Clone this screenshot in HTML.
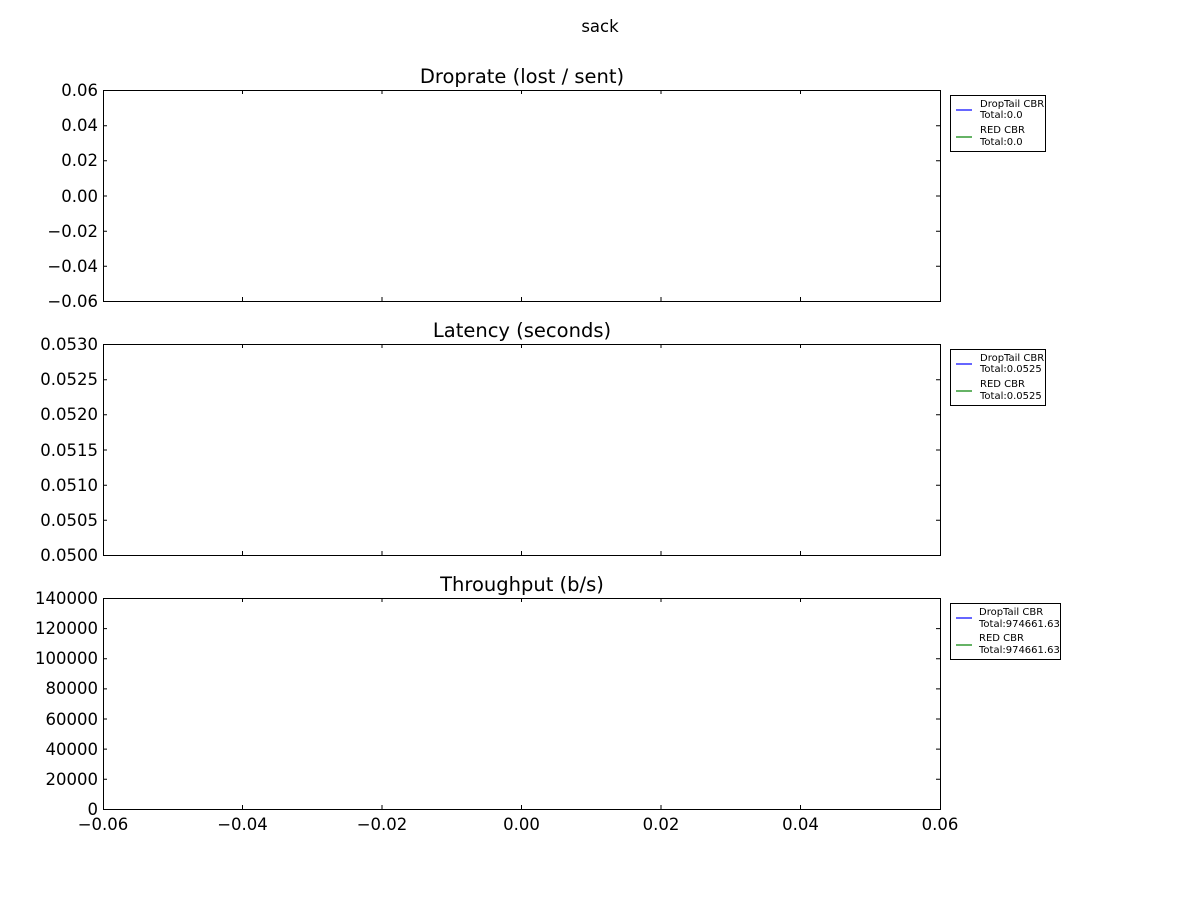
<!DOCTYPE html>
<html><head><meta charset="utf-8"><style>
html,body{margin:0;padding:0;background:#fff}
svg{display:block}
text{font-family:"DejaVu Sans","Liberation Sans",sans-serif;fill:#000}
.t{font-size:16.5px}
.yl{text-anchor:end}
.ti{font-size:19.5px;text-anchor:middle}
.lg{font-size:10px}
</style></head><body>
<svg width="1200" height="900" viewBox="0 0 1200 900">
<text x="600" y="32" text-anchor="middle" style="font-size:16.5px">sack</text>
<g stroke="#000" stroke-width="1" fill="none">
<rect x="103.5" y="90.5" width="837" height="211"/>
<rect x="103.5" y="344.5" width="837" height="211"/>
<rect x="103.5" y="598.5" width="837" height="211"/>
<path d="
M103 125.7h4M103 160.8h4M103 196h4M103 231.2h4M103 266.3h4
M940 125.7h-4M940 160.8h-4M940 196h-4M940 231.2h-4M940 266.3h-4
M103 379.7h4M103 414.8h4M103 450h4M103 485.2h4M103 520.3h4
M940 379.7h-4M940 414.8h-4M940 450h-4M940 485.2h-4M940 520.3h-4
M103 628.6h4M103 658.7h4M103 688.9h4M103 719h4M103 749.1h4M103 779.3h4
M940 628.6h-4M940 658.7h-4M940 688.9h-4M940 719h-4M940 749.1h-4M940 779.3h-4
M242.5 90v4M382 90v4M521.5 90v4M661 90v4M800.5 90v4
M242.5 301v-4M382 301v-4M521.5 301v-4M661 301v-4M800.5 301v-4
M242.5 344v4M382 344v4M521.5 344v4M661 344v4M800.5 344v4
M242.5 555v-4M382 555v-4M521.5 555v-4M661 555v-4M800.5 555v-4
M242.5 598v4M382 598v4M521.5 598v4M661 598v4M800.5 598v4
M242.5 809v-4M382 809v-4M521.5 809v-4M661 809v-4M800.5 809v-4"/>
<rect x="950.5" y="95.5" width="95" height="56"/>
<rect x="950.5" y="349.5" width="95" height="56"/>
<rect x="950.5" y="603.5" width="110" height="56"/>
</g>
<g stroke-width="1.2">
<line x1="956" y1="110" x2="972" y2="110" stroke="#0000ff"/>
<line x1="956" y1="137" x2="972" y2="137" stroke="#008000"/>
<line x1="956" y1="364" x2="972" y2="364" stroke="#0000ff"/>
<line x1="956" y1="391" x2="972" y2="391" stroke="#008000"/>
<line x1="956" y1="618" x2="972" y2="618" stroke="#0000ff"/>
<line x1="956" y1="645" x2="972" y2="645" stroke="#008000"/>
</g>
<g class="lg">
<text x="980" y="107">DropTail CBR</text><text x="980" y="118">Total:0.0</text>
<text x="980" y="133">RED CBR</text><text x="980" y="145">Total:0.0</text>
<text x="980" y="361">DropTail CBR</text><text x="980" y="372">Total:0.0525</text>
<text x="980" y="387">RED CBR</text><text x="980" y="399">Total:0.0525</text>
<text x="979" y="615">DropTail CBR</text><text x="979" y="627">Total:974661.63</text>
<text x="979" y="641">RED CBR</text><text x="979" y="653">Total:974661.63</text>
</g>
<text class="ti" x="522" y="83">Droprate (lost / sent)</text>
<text class="ti" x="522" y="337">Latency (seconds)</text>
<text class="ti" x="522" y="591">Throughput (b/s)</text>
<g class="t yl">
<text x="98" y="96">0.06</text><text x="98" y="131">0.04</text><text x="98" y="166">0.02</text><text x="98" y="202">0.00</text><text x="98" y="237">−0.02</text><text x="98" y="272">−0.04</text><text x="98" y="307">−0.06</text>
<text x="98" y="350">0.0530</text><text x="98" y="385">0.0525</text><text x="98" y="420">0.0520</text><text x="98" y="456">0.0515</text><text x="98" y="491">0.0510</text><text x="98" y="526">0.0505</text><text x="98" y="561">0.0500</text>
<text x="98" y="604">140000</text><text x="98" y="634">120000</text><text x="98" y="664">100000</text><text x="98" y="694">80000</text><text x="98" y="725">60000</text><text x="98" y="755">40000</text><text x="98" y="785">20000</text><text x="98" y="815">0</text>
</g>
<g class="t" text-anchor="middle">
<text x="103" y="830">−0.06</text><text x="242.5" y="830">−0.04</text><text x="382" y="830">−0.02</text><text x="521.5" y="830">0.00</text><text x="661" y="830">0.02</text><text x="800.5" y="830">0.04</text><text x="940" y="830">0.06</text>
</g>
</svg>
</body></html>
